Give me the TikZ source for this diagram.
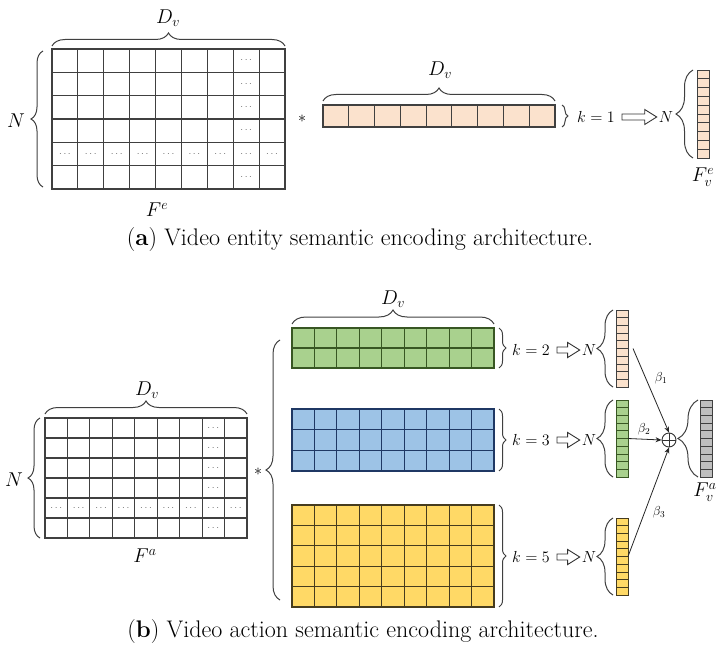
\RequirePackage{fix-cm}
\documentclass[tikz,border=0pt]{standalone}
\usepackage{fontspec}
\usetikzlibrary{decorations.pathreplacing,arrows.meta,calc,positioning}
\definecolor{peach}{RGB}{251,226,205}
\definecolor{leaf}{RGB}{169,209,142}
\definecolor{leafline}{RGB}{56,87,35}
\definecolor{sky}{RGB}{157,195,230}
\definecolor{skyline}{RGB}{31,56,100}
\definecolor{sun}{RGB}{255,217,102}
\definecolor{sunline}{RGB}{70,60,30}
\definecolor{ash}{RGB}{191,191,191}
\tikzset{
  cell/.style={line width=1.1pt, draw=black!75},
  thincell/.style={line width=0.7pt, draw=black!75},
  vec/.style={draw=black!75, line width=0.8pt, minimum width=12pt, minimum height=77pt, inner sep=0pt, outer sep=0pt},
  curly/.style={decorate, decoration={brace, amplitude=#1}, line width=1pt, draw=black!75},
  lab/.style={font=\fontsize{20}{24}\selectfont, inner sep=1pt},
  small/.style={font=\fontsize{16}{19}\selectfont, inner sep=1pt},
  tiny/.style={font=\fontsize{13}{16}\selectfont, inner sep=1pt},
  dots/.style={font=\fontsize{10}{12}\selectfont, text=black!60, inner sep=0pt},
  captext/.style={font=\fontsize{24}{28}\selectfont},
  hollow/.style={draw=black!80, line width=0.9pt, line join=miter, to path={
    ($(\tikztostart)+(6,-3)$) -- ($(\tikztotarget)+(-13,-3)$) -- ($(\tikztotarget)+(-13,-7.5)$)
    -- ($(\tikztotarget)+(-1,0)$) -- ($(\tikztotarget)+(-13,7.5)$) -- ($(\tikztotarget)+(-13,3)$)
    -- ($(\tikztostart)+(6,3)$) -- cycle}},
  beta/.style={line width=0.8pt, draw=black!85, -{Stealth[length=6pt,width=5pt]}}
}
\begin{document}
\begin{tikzpicture}[x=1pt,y=-1pt]
\useasboundingbox (0,0) rectangle (720,650);

% (a) entity encoding
\foreach \i in {0,...,8}
  \foreach \j in {0,...,5}
    \draw[cell] (52+\i*25.89,49+\j*23.33) rectangle ++(25.89,23.33);
\foreach \j in {0,1,2,3,5}
  \node[dots] (ea\j) at (52+7.5*25.89,49+\j*23.33+11.67) {$\cdots$};
\foreach \i in {0,...,8}
  \node[dots] (eb\i) at (52+\i*25.89+12.94,49+4.5*23.33) {$\cdots$};
\draw[curly=13] (52,46) -- (285,46);
\node[lab] (dva) at (168,18) {$D_v$};
\draw[curly=12] (43,187) -- (43,51);
\node[lab] (na) at (16,121) {$N$};
\node[lab] (fe) at (157,210) {$F^e$};
\node[small] (sa) at (302,119) {$*$};

\foreach \i in {0,...,8}
  \filldraw[cell, fill=peach] (323+\i*25.78,105) rectangle ++(25.78,22);
\draw[curly=13] (323,101) -- (555,101);
\node[lab] (dvb) at (440,70) {$D_v$};
\draw[curly=6] (562,105) -- (562,127);
\node[small] (k1) at (596,117) {$k=1$};
\node[small] (n1) at (666,117) {$N$};
\draw[hollow] (k1.east) to (n1.west);
\draw[curly=17] (693,158) -- (693,70);
\node[vec, fill=peach, minimum height=88pt] (fve) at (703,114) {};
\foreach \j in {1,...,9}
  \draw[thincell] (697,70+\j*8.8) -- ++(12,0);
\node[lab] (lfve) at (703,177) {$F_v^e$};
\node[captext] (capa) at (360,240) {(\textbf{a}) Video entity semantic encoding architecture.};

% (b) action encoding
\foreach \i in {0,...,8}
  \foreach \j in {0,...,5}
    \draw[cell] (45+\i*22.44,418+\j*20) rectangle ++(22.44,20);
\foreach \j in {0,1,2,3,5}
  \node[dots] (fa\j) at (45+7.5*22.44,418+\j*20+10) {$\cdots$};
\foreach \i in {0,...,8}
  \node[dots] (fb\i) at (45+\i*22.44+11.22,418+4.5*20) {$\cdots$};
\draw[curly=13] (45,414) -- (247,414);
\node[lab] (dvc) at (147,390) {$D_v$};
\draw[curly=12] (40,538) -- (40,418);
\node[lab] (nb) at (14,480) {$N$};
\node[lab] (fa) at (145,556) {$F^a$};
\node[small] (sb) at (258,472) {$*$};
\draw[curly=14] (280,600) -- (280,340);

\foreach \i in {0,...,8}
  \foreach \j in {0,1}
    \filldraw[cell, draw=leafline, fill=leaf] (292+\i*22.44,328+\j*20) rectangle ++(22.44,20);
\foreach \i in {0,...,8}
  \foreach \j in {0,1,2}
    \filldraw[cell, draw=skyline, fill=sky] (292+\i*22.44,409+\j*20.67) rectangle ++(22.44,20.67);
\foreach \i in {0,...,8}
  \foreach \j in {0,...,4}
    \filldraw[cell, draw=sunline, fill=sun] (292+\i*22.44,505+\j*20.4) rectangle ++(22.44,20.4);
\draw[curly=14] (292,324) -- (494,324);
\node[lab] (dvd) at (393,299) {$D_v$};

\draw[curly=7] (499,328) -- (499,368);
\draw[curly=7] (499,409) -- (499,471);
\draw[curly=7] (499,505) -- (499,607);
\node[small] (k2) at (531,350) {$k=2$};
\node[small] (k3) at (531,440) {$k=3$};
\node[small] (k5) at (531,557) {$k=5$};
\node[small] (n2) at (589,350) {$N$};
\node[small] (n3) at (589,440) {$N$};
\node[small] (n5) at (589,557) {$N$};
\draw[hollow] (k2.east) to (n2.west);
\draw[hollow] (k3.east) to (n3.west);
\draw[hollow] (k5.east) to (n5.west);

\draw[curly=16] (613,387) -- (613,310);
\draw[curly=16] (613,477) -- (613,400);
\draw[curly=16] (613,595) -- (613,518);
\node[vec, fill=peach] (v1) at (622,348.5) {};
\node[vec, fill=leaf, draw=leafline] (v2) at (622,438.5) {};
\node[vec, fill=sun, draw=sunline] (v3) at (622,556.5) {};
\foreach \j in {1,...,9} {
  \draw[thincell] (616,310+\j*7.7) -- ++(12,0);
  \draw[thincell, draw=leafline] (616,400+\j*7.7) -- ++(12,0);
  \draw[thincell, draw=sunline] (616,518+\j*7.7) -- ++(12,0);
}

\node[circle, draw=black!80, line width=0.9pt, minimum size=14pt, inner sep=0pt] (plus) at (669,440) {};
\draw[line width=0.9pt, draw=black!80] (plus.north) -- (plus.south) (plus.west) -- (plus.east);
\draw[beta] ([xshift=5pt]v1.east) -- (plus.north);
\draw[beta] (v2.east) -- (plus.west);
\draw[beta] (v3.east) -- (plus.south);
\node[tiny] (b1) at (661,378) {$\beta_1$};
\node[tiny] (b2) at (644,429) {$\beta_2$};
\node[tiny] (b3) at (659,512) {$\beta_3$};

\draw[curly=20] (698,477) -- (698,400);
\node[vec, fill=ash] (fva) at (706,438.5) {};
\foreach \j in {1,...,9}
  \draw[thincell] (700,400+\j*7.7) -- ++(12,0);
\node[lab] (lfva) at (705,492) {$F_v^a$};
\node[captext] (capb) at (363,632) {(\textbf{b}) Video action semantic encoding architecture.};
\end{tikzpicture}
\end{document}
